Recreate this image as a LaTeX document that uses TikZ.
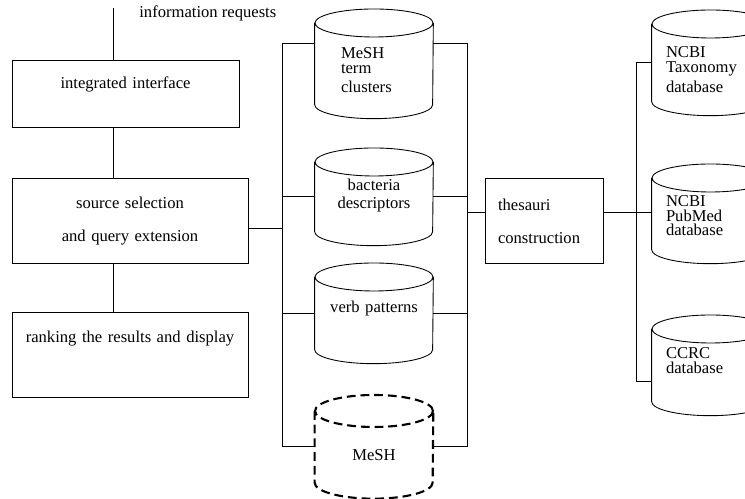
\documentclass[tikz,border=0pt]{standalone}
\usepackage{fontspec}
\setmainfont{Liberation Serif}
\newcommand{\diagfont}{\fontsize{9.45}{11}\selectfont}
\tikzset{
  box/.style={draw, line width=0.5pt, inner sep=0pt, align=center, font=\diagfont},
  dbtext/.style={inner sep=0pt, align=center, font=\diagfont, text width=2.36cm},
  dbline/.style={line width=0.5pt},
  dashdb/.style={line width=1.2pt, dash pattern=on 5pt off 2.8pt},
  link/.style={line width=0.5pt},
}
\begin{document}
\begin{tikzpicture}[x=0.02cm, y=-0.02cm]
  \useasboundingbox (0,0) rectangle (745,499);
  \clip (0,0) rectangle (745,499);

  % left column
  \node[box, text width=4.54cm, text height=0.56cm, text depth=0.78cm, anchor=north] (intface) at (125.5,60) {integrated interface};
  \node[box, text width=4.72cm, text height=0.6cm, text depth=1.1cm, anchor=north] (srcsel) at (130,178) {source selection\\[7.7pt]and query extension};
  \node[box, text width=4.72cm, text height=0.6cm, text depth=1.1cm, anchor=north] (rank) at (130,312) {ranking the results and display};
  \node[font=\diagfont, inner sep=0pt, anchor=base west] (reqtext) at (139,18) {information requests};

  % knowledge sources
  \node[dbtext, align=left, inner xsep=0.52cm, text width=1.32cm, text height=0.98cm, text depth=1.2cm, anchor=north] (mterm) at (374,9) {MeSH\\[-2.5pt]term\\[-0.2pt]clusters};
  \node[dbtext, text height=0.84cm, text depth=1.1cm, anchor=north] (bact) at (374,148) {bacteria\\[-0.8pt]descriptors};
  \node[dbtext, text height=0.98cm, text depth=1.02cm, anchor=north] (verb) at (374,263) {verb patterns};
  \node[dbtext, text height=1.3cm, text depth=0.76cm, anchor=north] (mesh) at (374,395) {MeSH};

  \node[box, draw, align=left, inner xsep=0.26cm, text width=1.84cm, text height=0.64cm, text depth=1.06cm, anchor=north] (thes) at (544,178) {thesauri\\[7.7pt]construction};

  % external databases
  \node[dbtext, align=left, inner xsep=0.28cm, text width=1.78cm, text height=0.94cm, text depth=1.16cm, anchor=north] (taxo) at (710.5,10) {NCBI\\[-2.5pt]Taxonomy\\[0.3pt]database};
  \node[dbtext, align=left, inner xsep=0.28cm, text width=1.78cm, text height=0.84cm, text depth=1.14cm, anchor=north] (pubmed) at (710.5,164) {NCBI\\[-2.6pt]PubMed\\[-2.6pt]database};
  \node[dbtext, align=left, inner xsep=0.28cm, text width=1.78cm, text height=0.86cm, text depth=1.14cm, anchor=north] (ccrc) at (710.5,315) {CCRC\\[-2.5pt]database};

  \foreach \c/\rx in {mterm/1.18cm, bact/1.18cm, verb/1.18cm, taxo/1.17cm, pubmed/1.17cm, ccrc/1.17cm}
    \draw[dbline] ([yshift=-0.28cm]\c.north west) -- ([yshift=0.28cm]\c.south west)
        arc[start angle=180, end angle=360, x radius=\rx, y radius=0.28cm] -- ([yshift=-0.28cm]\c.north east)
        ([yshift=-0.28cm]\c.north) ellipse[x radius=\rx, y radius=0.28cm];
  \draw[dashdb] ([yshift=-0.32cm]mesh.north west) -- ([yshift=0.32cm]mesh.south west)
      arc[start angle=180, end angle=360, x radius=1.18cm, y radius=0.32cm] -- ([yshift=-0.32cm]mesh.north east)
      ([yshift=-0.32cm]mesh.north) ellipse[x radius=1.18cm, y radius=0.32cm];

  % connectors
  \coordinate (req) at (113,8);
  \coordinate (lbt) at (282,43);
  \coordinate (rbt) at (467,43);
  \coordinate (dbus) at (636,0);
  \draw[link] (req) -- (req |- intface.north);
  \draw[link] (req |- intface.south) -- (req |- srcsel.north);
  \draw[link] (req |- srcsel.south) -- (req |- rank.north);
  \draw[link] ([yshift=-0.15cm]srcsel.east) -- ([yshift=-0.15cm]srcsel.east -| lbt);
  \draw[link] (lbt -| mterm.west) -- (lbt) -- (lbt |- mesh.west) -- (mesh.west);
  \draw[link] (rbt -| mterm.east) -- (rbt) -- (rbt |- mesh.east) -- (mesh.east);
  \foreach \c in {bact,verb} {
    \draw[link] (\c.west) -- (\c.west -| lbt);
    \draw[link] (\c.east) -- (\c.east -| rbt);
  }
  \draw[link] ([yshift=0.17cm]thes.west) -- ([yshift=0.17cm]thes.west -| rbt);
  \draw[link] ([yshift=0.17cm]thes.east) -- ([yshift=0.17cm]thes.east -| pubmed.west);
  \draw[link] (taxo.west) -| ([yshift=-0.32cm]ccrc.west -| dbus) -- ([yshift=-0.32cm]ccrc.west);
\end{tikzpicture}
\end{document}
